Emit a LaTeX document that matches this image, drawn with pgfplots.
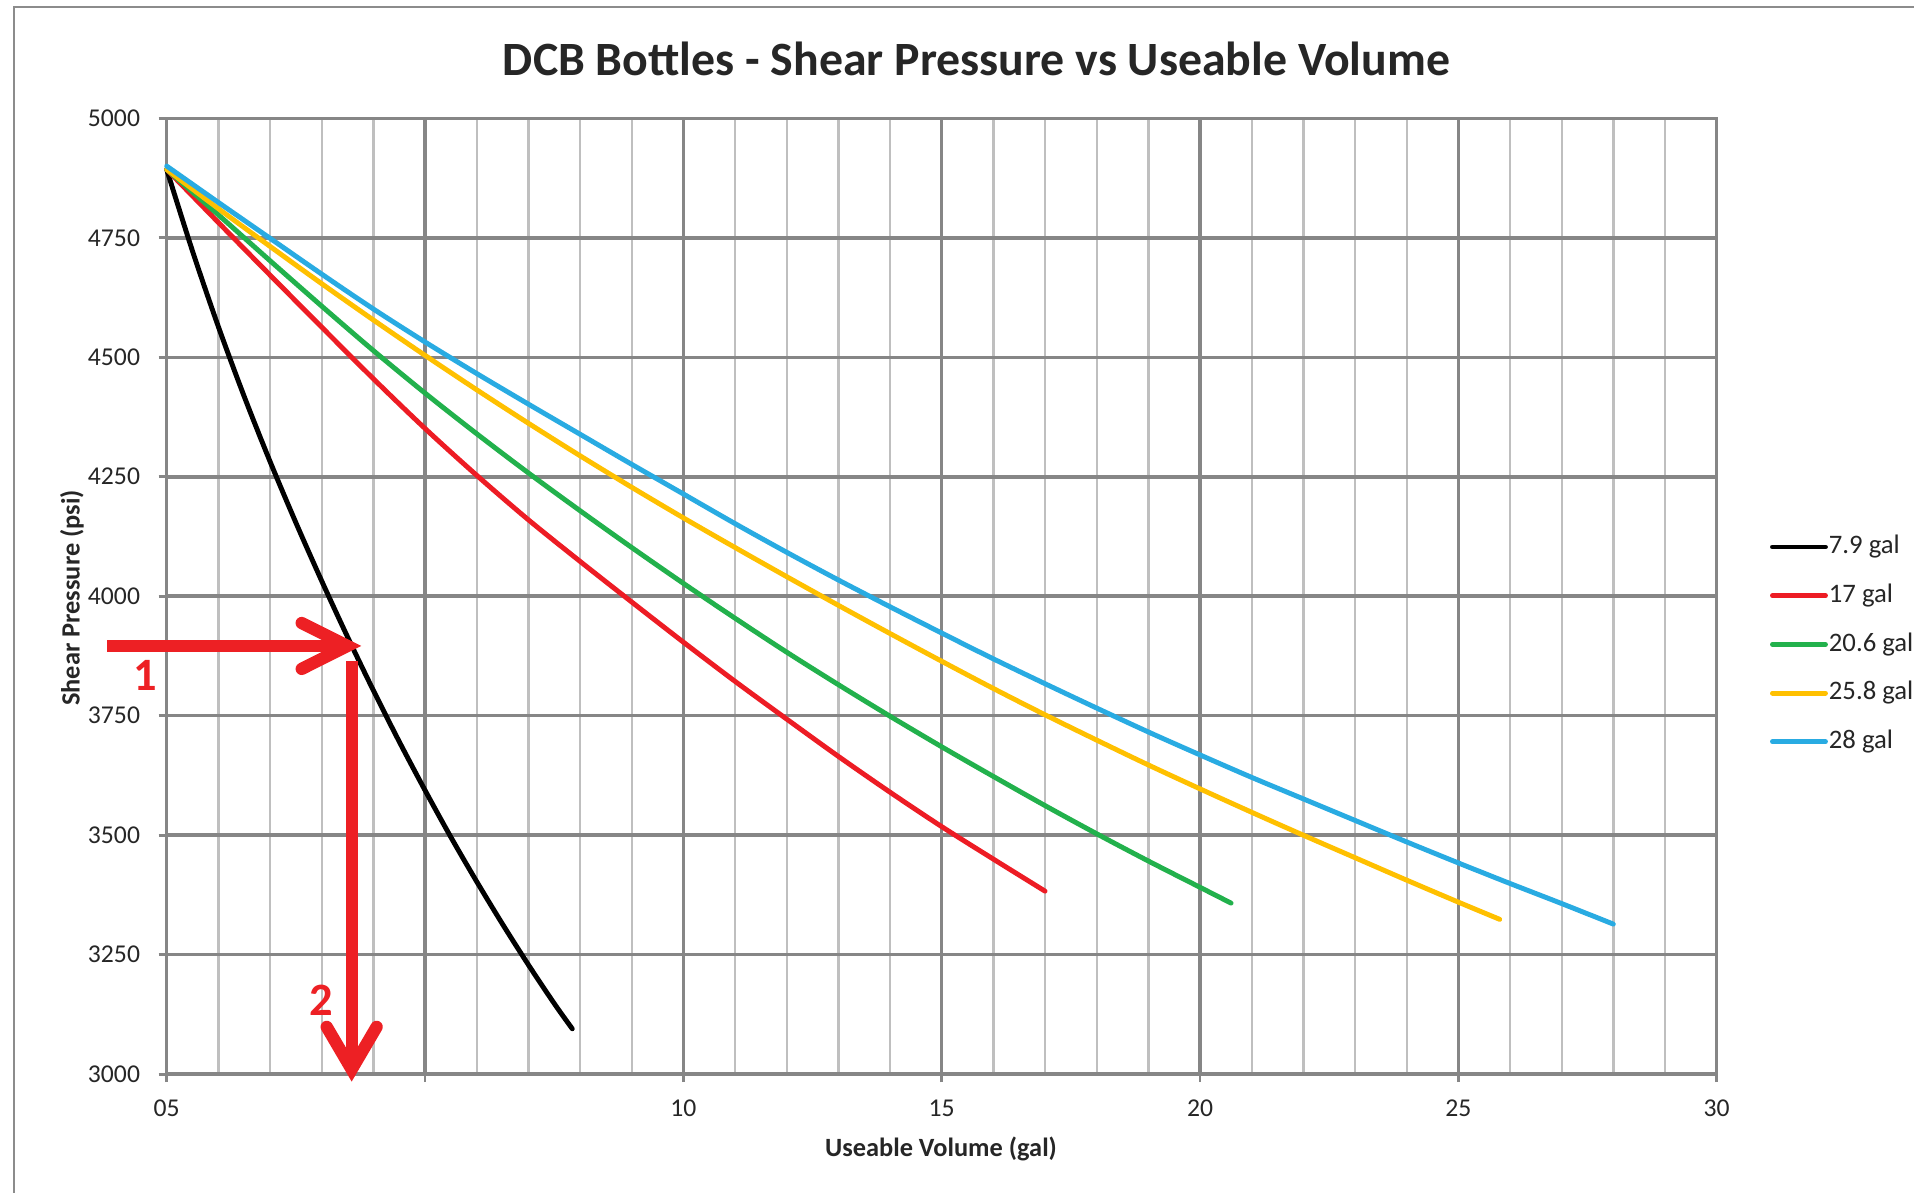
\documentclass[border=0pt]{standalone}
\usepackage{pgfplots}
\pgfplotsset{compat=1.18}
\usepackage{fontspec}
\setmainfont{Carlito}
\definecolor{cRed}{RGB}{237,28,36}
\definecolor{cGreen}{RGB}{34,177,76}
\definecolor{cYellow}{RGB}{255,192,0}
\definecolor{cBlue}{RGB}{41,171,226}
\definecolor{gMaj}{RGB}{134,134,134}
\definecolor{gMin}{RGB}{191,191,191}
\definecolor{frameGray}{RGB}{140,140,140}
\definecolor{arrowRed}{RGB}{237,32,36}
\definecolor{txt}{RGB}{38,38,38}
\begin{document}
\begin{tikzpicture}
\clip (-1.667,-1.178) rectangle (17.473,10.742);
\fill[white] (-1.667,-1.178) rectangle (17.473,10.742);
\draw[frameGray, line width=0.8pt] (-1.527,-3) -- (-1.527,10.672) -- (19,10.672);
\begin{axis}[
  at={(0,0)}, anchor=south west, scale only axis,
  width=15.5cm, height=9.559cm,
  xmin=0, xmax=30, ymin=3000, ymax=5000,
  xtick={0,5,...,30}, xticklabels={05,,10,15,20,25,30},
  ytick={3000,3250,...,5000},
  yticklabels={3000,3250,3500,3750,4000,4250,4500,4750,5000},
  minor x tick num=4,
  grid=both,
  major grid style={draw=gMaj, line width=1.0pt},
  minor grid style={draw=gMin, line width=0.65pt},
  axis line style={draw=gMaj, line width=1.0pt},
  tick style={draw=gMaj, line width=0.8pt},
  major tick length=0.08cm, minor tick length=0pt,
  tick align=outside,
  xtick pos=bottom, ytick pos=left,
  ticklabel style={font=\fontsize{7.3}{8.5}\selectfont, text=txt},
  yticklabel style={inner sep=0pt, xshift=-0.18cm},
  xticklabel style={inner sep=0pt, yshift=-0.17cm},
  clip=false,
  legend cell align=left,
  legend style={at={(1.0344,0.577)}, anchor=north west, draw=none, fill=none,
    inner sep=0pt, outer sep=0pt, font=\fontsize{7.6}{9}\selectfont, text=txt,
    row sep=0pt, nodes={inner sep=0pt, minimum height=0.487cm},
    /tikz/every odd column/.append style={column sep=0.01cm}},
  legend image code/.code={\draw[#1, line cap=round] (0cm,0cm) -- (0.53cm,0cm);},
  every axis plot/.append style={line width=1.4pt, line cap=round, line join=round},
]
\addplot[black, smooth] coordinates {
(0,4893) (0.5,4722) (1,4564) (1.5,4418) (2,4282) (2.5,4154) (3,4032) (3.5,3915)
(4,3803) (4.5,3696) (5,3594) (5.5,3496) (6,3403) (6.5,3314) (7,3229) (7.5,3148) (7.85,3095)};
\addplot[cRed, smooth] coordinates {
(0,4893) (1,4782) (2,4672) (3,4563) (4,4455) (5,4351) (6,4253) (7,4160) (8,4073)
(9,3988) (10,3904) (11,3822) (12,3743) (13,3665) (14,3590) (15,3518) (16,3450) (17,3383)};
\addplot[cGreen, smooth] coordinates {
(0,4893) (1,4798) (2,4702) (3,4607) (4,4514) (5,4425) (6,4340) (7,4258) (8,4179)
(9,4102) (10,4027) (11,3954) (12,3883) (13,3815) (14,3749) (15,3685) (16,3623)
(17,3562) (18,3503) (19,3446) (20,3391) (20.6,3358)};
\addplot[cYellow, smooth] coordinates {
(0,4893) (1,4811) (2,4732) (3,4654) (4,4578) (5,4504) (6,4432) (7,4362) (8,4294)
(9,4228) (10,4164) (11,4102) (12,4041) (13,3981) (14,3922) (15,3864) (16,3807)
(17,3752) (18,3699) (19,3647) (20,3597) (21,3548) (22,3500) (23,3453) (24,3406)
(25,3360) (25.8,3324)};
\addplot[cBlue, smooth] coordinates {
(0,4900) (1,4824) (2,4749) (3,4674) (4,4601) (5,4532) (6,4466) (7,4402) (8,4339)
(9,4276) (10,4214) (11,4152) (12,4092) (13,4034) (14,3978) (15,3923) (16,3869)
(17,3817) (18,3766) (19,3716) (20,3668) (21,3621) (22,3576) (23,3531) (24,3486)
(25,3442) (26,3399) (27,3357) (28,3314)};
\legend{7.9 gal, 17 gal, 20.6 gal, 25.8 gal, 28 gal}
% annotation arrows
\draw[arrowRed, line width=3.5pt, line cap=butt] (axis cs:-1.155,3896) -- (axis cs:3.46,3896);
\draw[arrowRed, line width=3.5pt, line cap=round, line join=miter] (axis cs:2.613,3944) -- (axis cs:3.50,3896) -- (axis cs:2.613,3848);
\draw[arrowRed, line width=3.5pt, line cap=butt] (axis cs:3.58,3864) -- (axis cs:3.58,3025);
\draw[arrowRed, line width=3.5pt, line cap=round, line join=miter] (axis cs:3.097,3099) -- (axis cs:3.58,3010) -- (axis cs:4.063,3099);
\node[text=arrowRed, font=\fontsize{13.2}{14}\selectfont\bfseries] at (axis cs:-0.406,3835) {1};
\node[text=arrowRed, font=\fontsize{13.2}{14}\selectfont\bfseries] at (axis cs:3.0,3155) {2};
\end{axis}
\node[font=\fontsize{13.6}{16}\selectfont\bfseries, text=txt] at (8.099,10.156) {DCB Bottles - Shear Pressure vs Useable Volume};
\node[font=\fontsize{7.5}{9}\selectfont\bfseries, text=txt] at (7.743,-0.745) {Useable Volume (gal)};
\node[font=\fontsize{7.5}{9}\selectfont\bfseries, text=txt, rotate=90] at (-0.947,4.762) {Shear Pressure (psi)};
\end{tikzpicture}
\end{document}
